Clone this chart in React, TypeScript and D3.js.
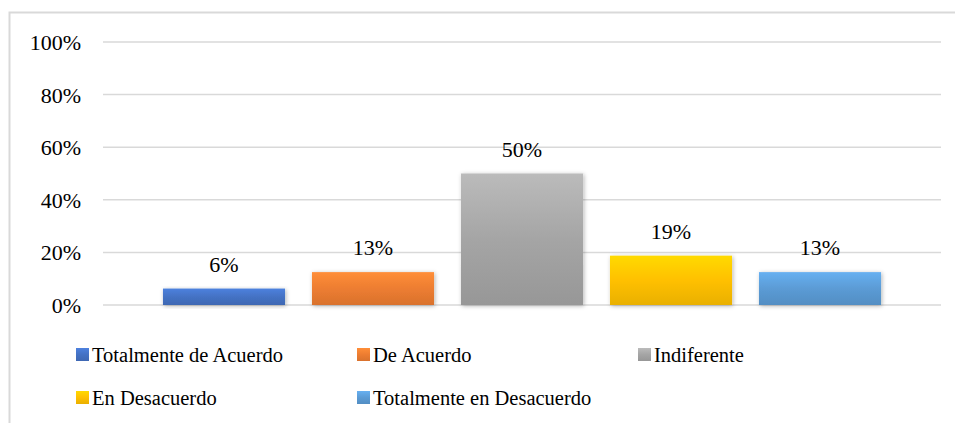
import React, { useEffect, useRef } from "react";
import * as d3 from "d3";

// survey answers (share of respondents)
const categories = [
  "Totalmente de Acuerdo",
  "De Acuerdo",
  "Indiferente",
  "En Desacuerdo",
  "Totalmente en Desacuerdo",
];
const values = [0.0625, 0.125, 0.5, 0.1875, 0.125];
const yTicks = [0, 0.2, 0.4, 0.6, 0.8, 1];
const colors = ["#4472C4", "#ED7D31", "#A5A5A5", "#FFC000", "#5B9BD5"];

const W = 955,
  H = 423;

export default function App() {
  const ref = useRef<SVGSVGElement>(null);

  useEffect(() => {
    const svg = d3.select(ref.current);
    svg.selectAll("*").remove();

    const plot = { left: 103, right: 941, top: 42, bottom: 305 };
    const font = "'Liberation Serif', 'Times New Roman', serif";

    const y = d3.scaleLinear().domain([0, 1]).range([plot.bottom, plot.top]);
    const x = d3
      .scaleBand<string>()
      .domain(categories)
      .range([plot.left, plot.right])
      .paddingInner(0.181)
      .paddingOuter(0.4026);

    const defs = svg.append("defs");
    // gradients like the office style
    colors.forEach((c, i) => {
      const g = defs
        .append("linearGradient")
        .attr("id", "grad" + i)
        .attr("x1", 0)
        .attr("y1", 0)
        .attr("x2", 0)
        .attr("y2", 1);
      g.append("stop").attr("offset", "0%").attr("stop-color", d3.color(c)!.brighter(0.35).formatHex());
      g.append("stop").attr("offset", "50%").attr("stop-color", c);
      g.append("stop").attr("offset", "100%").attr("stop-color", d3.color(c)!.darker(0.25).formatHex());
    });
    const f = defs
      .append("filter")
      .attr("id", "shadow")
      .attr("x", "-10%")
      .attr("y", "-10%")
      .attr("width", "120%")
      .attr("height", "130%");
    f.append("feDropShadow")
      .attr("dx", 1)
      .attr("dy", 1)
      .attr("stdDeviation", 2)
      .attr("flood-color", "#000")
      .attr("flood-opacity", 0.3);

    // outer frame
    svg
      .append("rect")
      .attr("x", 9.5)
      .attr("y", 12.5)
      .attr("width", W + 20)
      .attr("height", H + 20)
      .attr("fill", "#fff")
      .attr("stroke", "#d9d9d9")
      .attr("stroke-width", 2);

    // grid
    svg
      .append("g")
      .selectAll("line")
      .data(yTicks)
      .join("line")
      .attr("x1", plot.left)
      .attr("x2", plot.right)
      .attr("y1", (d) => y(d))
      .attr("y2", (d) => y(d))
      .attr("stroke", "#d9d9d9")
      .attr("stroke-width", 1.5);

    svg
      .append("g")
      .selectAll("text")
      .data(yTicks)
      .join("text")
      .attr("x", 81)
      .attr("y", (d) => y(d))
      .attr("dy", "0.36em")
      .attr("text-anchor", "end")
      .style("font-family", font)
      .style("font-size", "22px")
      .attr("fill", "#000")
      .text((d) => d3.format(".0%")(d));

    // bars
    svg
      .append("g")
      .selectAll("rect")
      .data(values)
      .join("rect")
      .attr("x", (d, i) => x(categories[i])!)
      .attr("y", (d) => y(d))
      .attr("width", x.bandwidth())
      .attr("height", (d) => y(0) - y(d))
      .attr("fill", (d, i) => `url(#grad${i})`)
      .attr("filter", "url(#shadow)");

    svg
      .append("g")
      .selectAll("text")
      .data(values)
      .join("text")
      .attr("x", (d, i) => x(categories[i])! + x.bandwidth() / 2)
      .attr("y", (d) => y(d) - 17)
      .attr("text-anchor", "middle")
      .style("font-family", font)
      .style("font-size", "22px")
      .attr("fill", "#000")
      .text((d) => Math.round(d * 100) + "%");

    // legend, 3 per row
    const leg = svg
      .append("g")
      .selectAll("g")
      .data(categories)
      .join("g")
      .attr("transform", (d, i) => `translate(${76 + (i % 3) * 281},${348 + Math.floor(i / 3) * 43})`);
    leg
      .append("rect")
      .attr("width", 13)
      .attr("height", 13)
      .attr("fill", (d, i) => `url(#grad${i})`);
    leg
      .append("text")
      .attr("x", 16)
      .attr("y", 14)
      .style("font-family", font)
      .style("font-size", "20.5px")
      .attr("fill", "#000")
      .text((d) => d);
  }, []);

  return (
    <svg
      ref={ref}
      width={W}
      height={H}
      style={{ position: "absolute", left: 0, top: 0, background: "#fff" }}
    />
  );
}
